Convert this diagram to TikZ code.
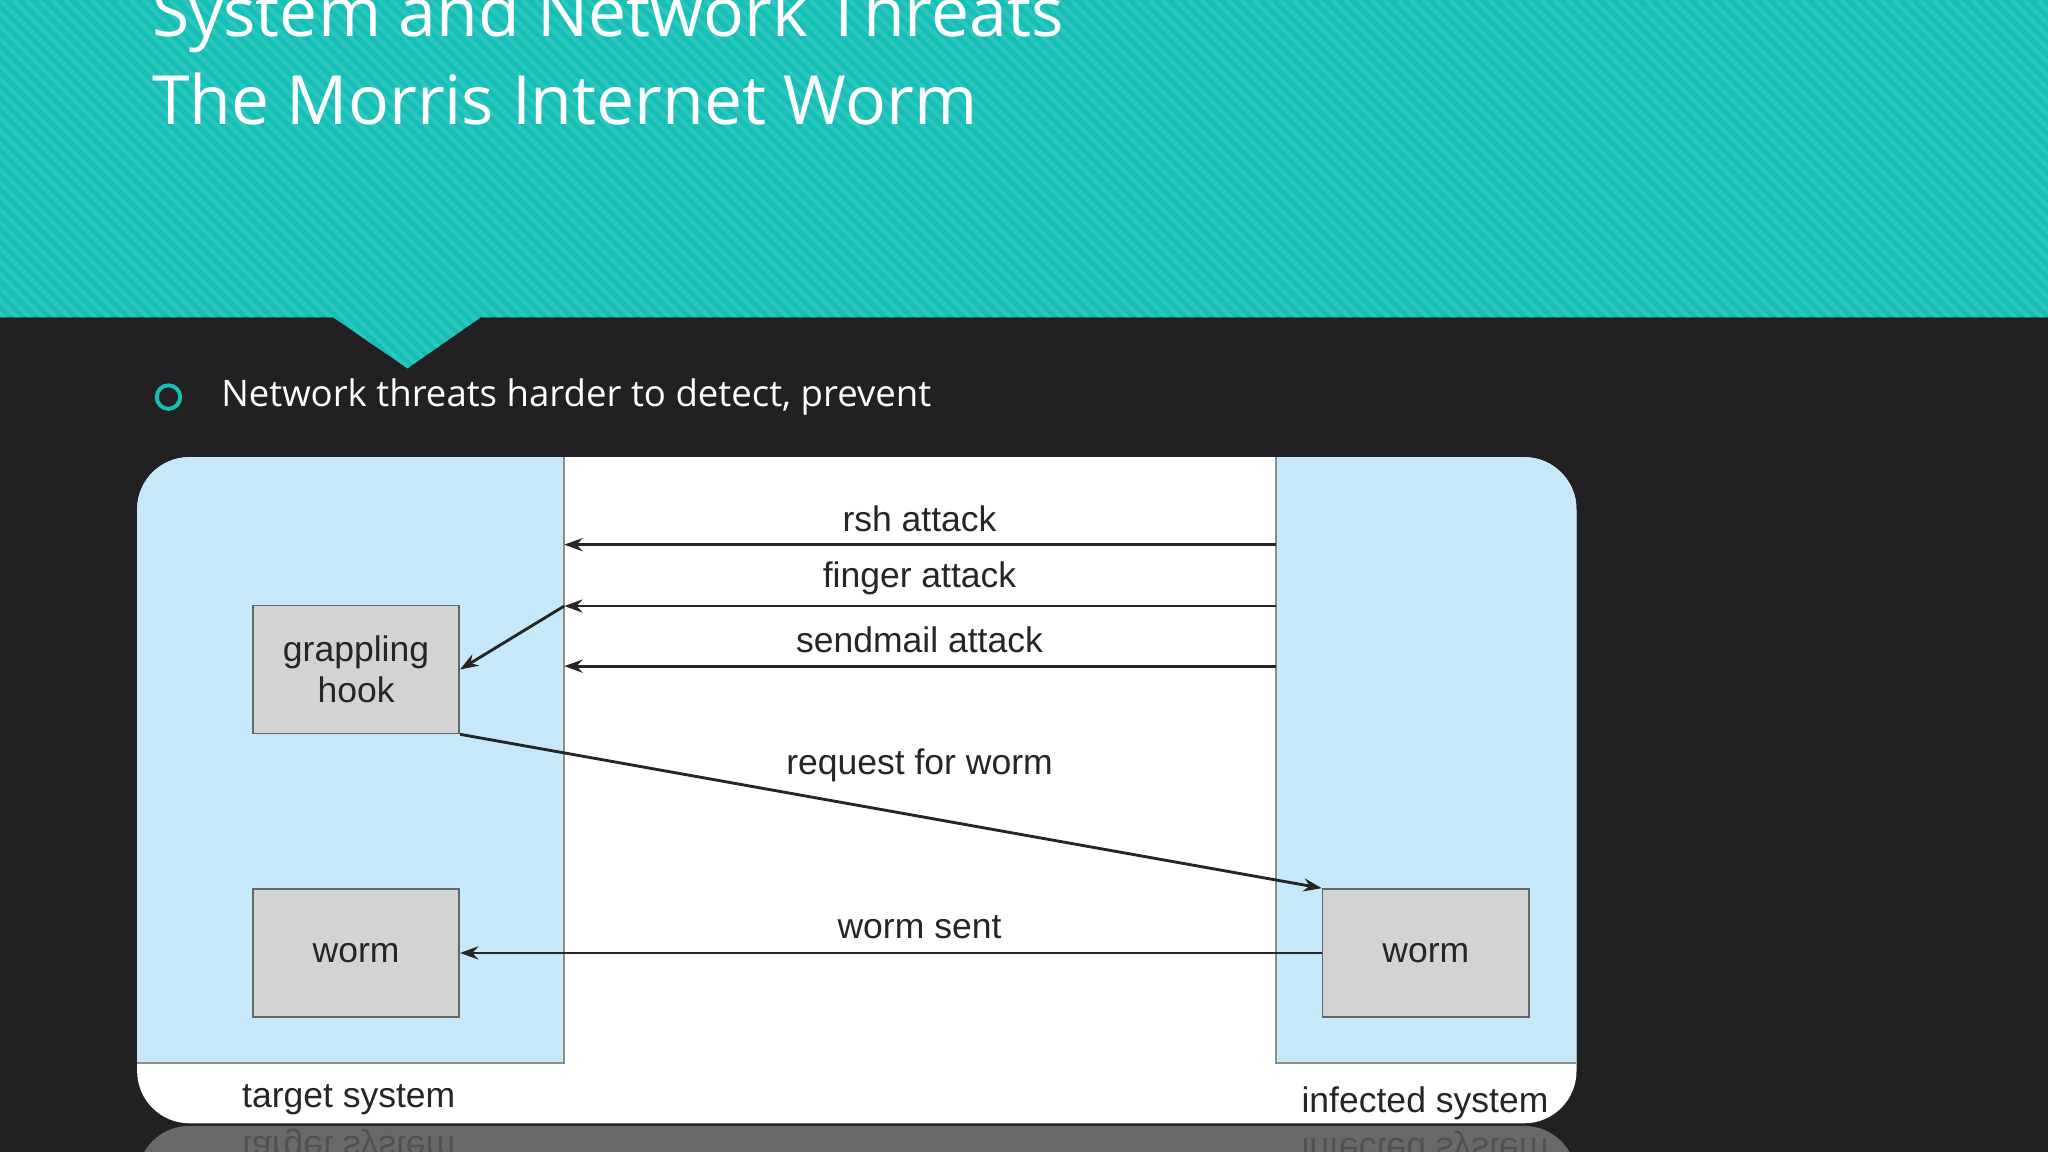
\documentclass[tikz,border=0pt]{standalone}
\usepackage{fontspec}
\setmainfont{Liberation Sans}
\newfontfamily\segoe{Open Sans}
\usetikzlibrary{arrows.meta}
\definecolor{teal1}{HTML}{16BFB6}
\definecolor{teal2}{HTML}{3ECFC6}
\definecolor{darkbg}{HTML}{222022}
\definecolor{lblue}{HTML}{C6E8F8}
\definecolor{boxg}{HTML}{D3D3D3}
\tikzset{
  gbox/.style={draw=black!60, line width=0.6pt, fill=boxg},
  arr/.style={line width=1.1pt, draw=black!85, -{Stealth[length=7pt,width=5pt]}},
  lbl/.style={font=\fontsize{13.6}{15.5}\selectfont, text=black!85},
}
\begin{document}
\begin{tikzpicture}[x=0.5pt,y=-0.5pt]
\useasboundingbox (0,0) rectangle (1568,882);
\fill[darkbg] (0,0) rectangle (1568,882);
\fill[teal1] (0,0) -- (1568,0) -- (1568,243) -- (368,243) -- (312,282) -- (255,243) -- (0,243) -- cycle;
\begin{scope}
\clip (0,0) -- (1568,0) -- (1568,243) -- (368,243) -- (312,282) -- (255,243) -- (0,243) -- cycle;
\foreach \i in {-300,-290,...,1580} {\draw[teal2, line width=1.6pt, opacity=0.55] (\i,0) -- ++(290,290);}
\end{scope}
\node[anchor=base west, text=white, inner sep=0, font=\segoe\fontsize{26}{28}\selectfont] (t1) at (116,28) {System and Network Threats};
\node[anchor=base west, text=white, inner sep=0, font=\segoe\fontsize{26}{28}\selectfont] (t2) at (116,95) {The Morris Internet Worm};
\draw[teal1, line width=1.5pt] (129,304) circle[radius=9];
\node[anchor=west, text=white, inner sep=0, font=\segoe\fontsize{14}{16}\selectfont] (b1) at (169,304) {Network threats harder to detect, prevent};
% diagram
\fill[white, rounded corners=20pt] (105,350) rectangle (1207,860);
\begin{scope}
\clip[rounded corners=20pt] (105,350) rectangle (1207,860);
\fill[lblue] (105,350) rectangle (432,814);
\fill[lblue] (977,350) rectangle (1207,814);
\draw[black!45, line width=0.6pt] (432,350) -- (432,814) -- (105,814);
\draw[black!45, line width=0.6pt] (977,350) -- (977,814) -- (1207,814);
\end{scope}
\node[gbox, minimum width=79pt, minimum height=49pt, anchor=north west, lbl, align=center] (gh) at (193,463) {grappling\\hook};
\node[gbox, minimum width=79pt, minimum height=49pt, anchor=north west, lbl] (wl) at (193,680) {worm};
\node[gbox, minimum width=79pt, minimum height=49pt, anchor=north west, lbl] (wr) at (1012,680) {worm};
\coordinate (r1) at (977,417); \coordinate (r2) at (432,417);
\coordinate (f1) at (977,464); \coordinate (f2) at (432,464);
\coordinate (s1) at (977,510); \coordinate (s2) at (432,510);
\draw[arr] (r1) -- (r2);
\draw[arr] (f1) -- (f2);
\draw[arr] (f2) -- (gh.east);
\draw[arr] (s1) -- (s2);
\draw[arr] (gh.south east) -- (wr.north west);
\draw[arr] (wr.west) -- (wl.east);
\node[lbl] (l1) at (704,397) {rsh attack};
\node[lbl] (l2) at (704,443) {finger attack};
\node[lbl] (l3) at (704,490) {sendmail attack};
\node[lbl] (l4) at (704,586) {request for worm};
\node[lbl] (l5) at (704,710) {worm sent};
\node[lbl] (l6) at (267,842) {target system};
\node[lbl] (l7) at (1091,845) {infected system};
\begin{scope}
\clip (100,862) rectangle (1210,882);
\fill[black!30, opacity=0.5, rounded corners=20pt] (105,862) rectangle (1207,1100);
\node[lbl, yscale=-1, opacity=0.35] (m1) at (267,876) {target system};
\node[lbl, yscale=-1, opacity=0.35] (m2) at (1091,879) {infected system};
\end{scope}
\end{tikzpicture}
\end{document}
